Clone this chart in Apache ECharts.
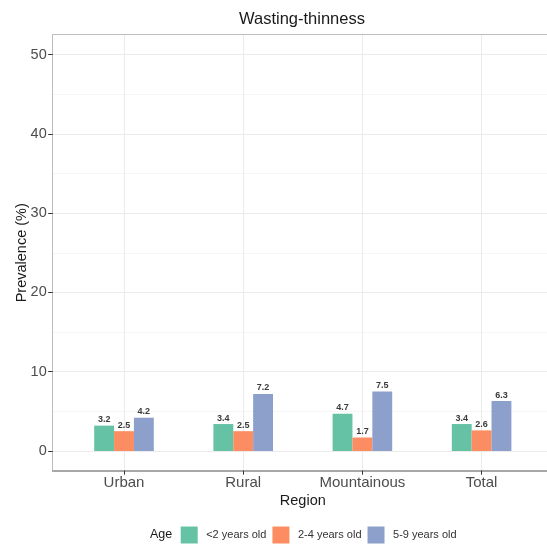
<!DOCTYPE html>
<html><head><meta charset="utf-8">
<script src="https://cdn.jsdelivr.net/npm/echarts@6/dist/echarts.min.js"></script>
<style>html,body{margin:0;padding:0;background:#fff}#c{width:547px;height:550px}</style>
</head><body><div id="c"></div>
<script>
const categories = ['Urban', 'Rural', 'Mountainous', 'Total'];
const ageGroups = ['<2 years old', '2-4 years old', '5-9 years old'];
const under2 = [3.2, 3.4, 4.7, 3.4];
const age2to4 = [2.5, 2.5, 1.7, 2.6];
const age5to9 = [4.2, 7.2, 7.5, 6.3];
const yMin = 0, yMax = 50, yStep = 10;
const colors = ['#66c2a5', '#fc8d62', '#8da0cb'];

const FONT = 'Liberation Sans, Arial, sans-serif';
const PL = 52.7, PT = 34.7, PB = 470.7, PW = 500;
const Y0 = 451, YTOP = 54.5;
const STEP = 119.2, C0 = 124;

const chart = echarts.init(document.getElementById('c'), null, {renderer: 'canvas'});
const seriesData = [under2, age2to4, age5to9];
chart.setOption({
  animation: false,
  textStyle: {fontFamily: FONT},
  graphic: [
    {type: 'text', x: 302, y: 19, style: {text: 'Wasting-thinness', fontSize: 16.5, fontFamily: FONT, fill: '#1a1a1a', textAlign: 'center', textVerticalAlign: 'middle'}},
    {type: 'text', x: 150, y: 535, style: {text: 'Age', fontSize: 12.5, fontFamily: FONT, fill: '#1a1a1a', textAlign: 'left', textVerticalAlign: 'middle'}}
  ],
  legend: {
    left: 180.7, top: 526.5, padding: 0, itemWidth: 17, itemHeight: 17, itemGap: 6, icon: 'rect',
    textStyle: {fontSize: 11, color: '#333', fontFamily: FONT, padding: [0, 0, 0, 3.5]},
    data: ageGroups
  },
  grid: [
    {left: PL, top: PT, width: PW, height: PB - PT},
    {left: PL, top: YTOP, width: PW, height: Y0 - YTOP},
    {left: C0 - STEP / 2, top: YTOP, width: STEP * 4, height: Y0 - YTOP},
    {left: C0, top: PT, width: STEP * 3, height: PB - PT}
  ],
  xAxis: [
    {gridIndex: 0, type: 'value', min: 0, max: 1, position: 'bottom', axisLine: {show: true, lineStyle: {color: '#8a8a8a', width: 1.5}}, axisTick: {show: false}, axisLabel: {show: false}, splitLine: {show: false}},
    {gridIndex: 0, type: 'value', min: 0, max: 1, position: 'top', axisLine: {show: true, lineStyle: {color: '#bdbdbd', width: 1}}, axisTick: {show: false}, axisLabel: {show: false}, splitLine: {show: false}},
    {gridIndex: 1, type: 'value', min: 0, max: 1, show: false},
    {gridIndex: 2, type: 'category', data: categories, show: false},
    {gridIndex: 3, type: 'category', data: categories, boundaryGap: false,
      axisLine: {show: false},
      axisTick: {show: true, length: 4, lineStyle: {color: '#333'}},
      axisLabel: {show: true, fontSize: 15, color: '#4d4d4d', margin: 5, interval: 0, fontFamily: FONT},
      splitLine: {show: true, interval: 0, lineStyle: {color: '#ebebeb', width: 1}},
      name: 'Region', nameLocation: 'middle', nameGap: 22.5, nameMoveOverlap: false,
      nameTextStyle: {fontSize: 14.5, color: '#1a1a1a', fontFamily: FONT}}
  ],
  yAxis: [
    {gridIndex: 0, type: 'value', min: 0, max: 1, position: 'left', axisLine: {show: true, lineStyle: {color: '#bdbdbd', width: 1}}, axisTick: {show: false}, axisLabel: {show: false}, splitLine: {show: false}},
    {gridIndex: 1, type: 'value', min: yMin, max: yMax, interval: yStep,
      axisLine: {show: false},
      axisTick: {show: true, length: 4.5, lineStyle: {color: '#333'}},
      axisLabel: {fontSize: 14.5, color: '#4d4d4d', margin: 6, fontFamily: FONT},
      splitLine: {show: true, lineStyle: {color: '#ebebeb', width: 1}},
      minorTick: {show: false, splitNumber: 2},
      minorSplitLine: {show: true, lineStyle: {color: '#f5f5f5', width: 1}},
      name: 'Prevalence (%)', nameLocation: 'middle', nameGap: 23.5, nameMoveOverlap: false,
      nameTextStyle: {fontSize: 14.5, color: '#1a1a1a', fontFamily: FONT}},
    {gridIndex: 2, type: 'value', min: yMin, max: yMax, show: false},
    {gridIndex: 3, type: 'value', min: 0, max: 1, show: false}
  ],
  series: ageGroups.map((g, i) => ({
    name: g, type: 'bar', xAxisIndex: 3, yAxisIndex: 2,
    data: seriesData[i],
    barGap: '0%', barCategoryGap: '50%',
    itemStyle: {color: colors[i]},
    label: {show: true, position: 'top', distance: 1.5, fontSize: 9, fontWeight: 'bold', color: '#3a3a3a', fontFamily: FONT,
      formatter: p => p.value.toFixed(1)}
  }))
});
</script></body></html>
